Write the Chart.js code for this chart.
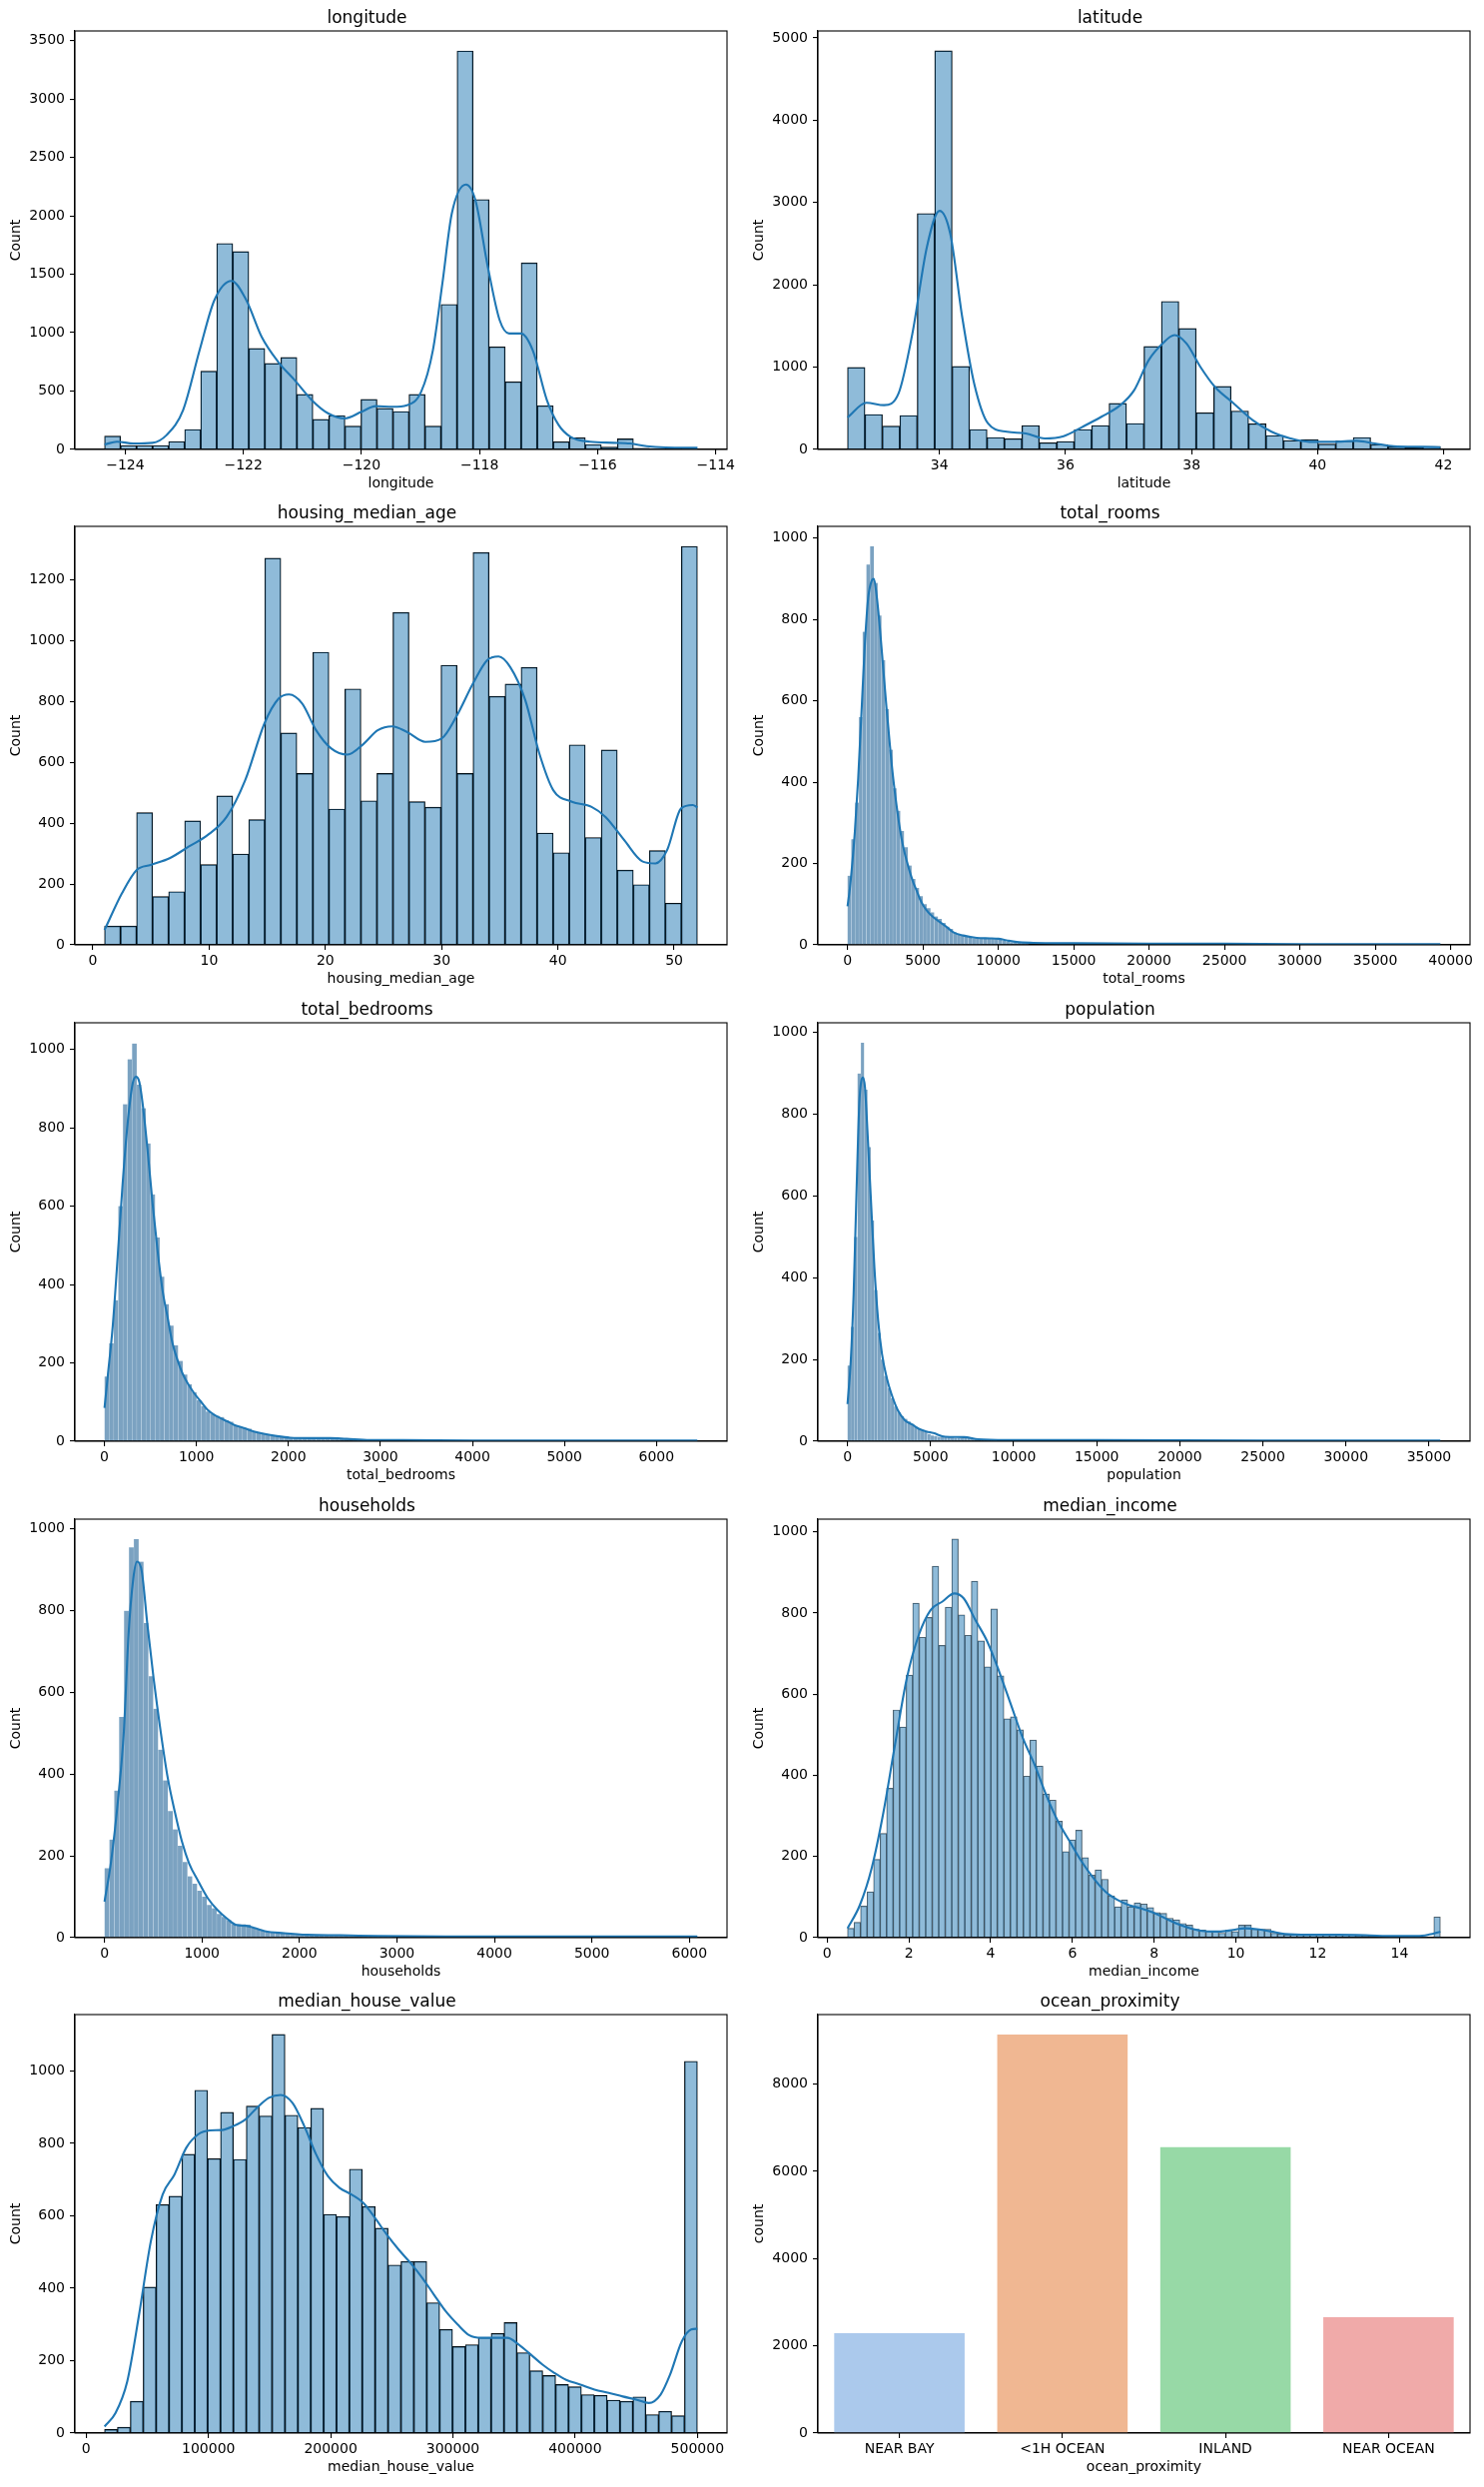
<!DOCTYPE html>
<html lang="en">
<head>
  <meta charset="UTF-8" />
  <title>Housing feature distributions</title>
  <script src="https://cdn.jsdelivr.net/npm/chart.js"></script>
  <style>
    html, body { margin: 0; padding: 0; background: #fff; }
    body { width: 1486px; height: 2490px; position: relative; overflow: hidden; }
    .panel { position: absolute; width: 733px; height: 499px; }
  </style>
</head>
<body>

  <!-- 5 x 2 grid of panels -->
  <div class="panel" style="left:7px;top:1px"><canvas id="longitude" width="733" height="499"></canvas></div>
  <div class="panel" style="left:751px;top:1px"><canvas id="latitude" width="733" height="499"></canvas></div>
  <div class="panel" style="left:7px;top:497px"><canvas id="housing_median_age" width="733" height="499"></canvas></div>
  <div class="panel" style="left:751px;top:497px"><canvas id="total_rooms" width="733" height="499"></canvas></div>
  <div class="panel" style="left:7px;top:994px"><canvas id="total_bedrooms" width="733" height="499"></canvas></div>
  <div class="panel" style="left:751px;top:994px"><canvas id="population" width="733" height="499"></canvas></div>
  <div class="panel" style="left:7px;top:1491px"><canvas id="households" width="733" height="499"></canvas></div>
  <div class="panel" style="left:751px;top:1491px"><canvas id="median_income" width="733" height="499"></canvas></div>
  <div class="panel" style="left:7px;top:1987px"><canvas id="median_house_value" width="733" height="499"></canvas></div>
  <div class="panel" style="left:751px;top:1987px"><canvas id="ocean_proximity" width="733" height="499"></canvas></div>

  <script>
    // ---- data ----
    // longitude: 37 bins from -124.35
    const lonStart = -124.35, lonWidth = 0.27135;
    const lonCounts = [114,34,34,34,68,171,670,1763,1694,864,736,787,471,257,291,200,428,351,325,471,200,1241,3411,2139,878,579,1597,374,66,100,43,20,91,11,8,6,5];
    const lonKdeX = [-124.35,-124.14,-123.86,-123.54,-123.30,-123.02,-122.74,-122.49,-122.20,-121.95,-121.69,-121.41,-121.13,-120.84,-120.56,-120.28,-120.00,-119.76,-119.47,-119.23,-118.99,-118.79,-118.63,-118.47,-118.23,-118.07,-117.86,-117.66,-117.50,-117.30,-117.10,-116.86,-116.66,-116.46,-116.13,-115.73,-115.45,-115.17,-114.85,-114.31];
    const lonKdeY = [43,66,51,57,123,337,850,1278,1443,1278,964,750,593,422,308,265,322,371,365,379,493,850,1420,2019,2268,2133,1563,1107,993,993,850,422,208,108,66,57,51,28,17,14];

    // latitude: 34 bins from 32.54
    const latStart = 32.54, latWidth = 0.27676;
    const latCounts = [996,425,283,413,2866,4842,1008,243,146,130,291,81,97,243,291,559,316,1251,1798,1470,445,765,466,312,170,109,121,65,105,146,61,32,24,36];
    const latKdeX = [32.54,32.84,33.12,33.35,33.57,33.8,34.0,34.17,34.36,34.55,34.77,35.07,35.37,35.67,35.97,36.27,36.57,36.87,37.09,37.32,37.54,37.73,37.92,38.14,38.37,38.67,38.97,39.27,39.57,39.87,40.24,40.62,40.91,41.21,41.66,41.95];
    const latKdeY = [389,567,538,680,1409,2461,2899,2623,1611,802,316,215,194,134,162,275,397,538,720,1085,1287,1389,1287,1004,761,559,356,215,134,93,93,105,73,40,32,28];

    // housing_median_age: 37 bins from 1
    const ageStart = 1, ageWidth = 1.3784;
    const ageCounts = [62,62,435,159,175,408,264,490,299,412,1272,697,564,963,447,842,474,564,1094,471,453,920,564,1291,818,858,913,368,303,658,353,641,246,198,310,137,1311];
    const ageKdeX = [1,2.5,3.75,4.97,6.6,8.23,9.86,11.5,13.1,14.75,15.97,16.87,18.0,19.2,20.5,21.9,23.3,24.5,25.75,27,28.6,30.0,31.25,32.7,33.9,34.9,35.9,37.2,38.4,39.6,41.2,42.9,44.1,45.7,47.3,48.4,49.4,50.6,51.6,52];
    const ageKdeY = [49,170,246,263,285,323,361,421,542,728,810,824,794,706,646,626,662,706,719,701,668,679,750,860,936,949,914,805,630,509,471,454,421,345,274,268,312,449,460,452];

    // total_rooms: bars of 250 from 2 (tail below 4 left to the kde line)
    const roomsStart = 2, roomsWidth = 250;
    const roomsCounts = [170,260,350,560,770,935,980,890,810,700,580,480,385,330,280,240,195,162,140,120,100,90,80,70,64,54,45,39,31,27,23,20,17,16,15,16,16,16,15,15,12,10,8,6,5,5,4,4];
    const roomsKdeX = [2,155,487,708,929,1150,1372,1593,1748,1925,2146,2367,2588,2810,3031,3252,3473,3695,3916,4137,4358,4580,4801,5022,5354,5686,6128,6571,7013,7677,8562,9447,10000,10553,11217,12323,13872,15000,20000,25000,30000,35000,39320];
    const roomsKdeY = [95,138,278,409,573,738,853,894,900,861,779,680,582,491,409,343,286,241,208,179,154,134,113,97,80,68,56,44,31,23,17,16,15,11,7,5,4,4,3,3,2,2,2];

    // total_bedrooms: bars of 50 from 1
    const bedStart = 1, bedWidth = 50;
    const bedCounts = [165,250,360,600,860,975,1015,910,850,760,630,520,420,350,295,245,205,170,145,125,105,90,76,70,65,62,53,50,41,37,34,32,24,21,18,16,14,12,11,11,9,9,8,8,7,7,6,6,7,9,8,7,6,5,5,4,4,4,3,3];
    const bedKdeX = [1,36,90,144,198,252,307,343,379,415,469,523,577,631,685,739,793,847,902,974,1046,1118,1190,1262,1334,1406,1515,1623,1731,1875,2019,2236,2452,2632,2885,3245,4000,5000,6000,6445];
    const bedKdeY = [85,166,293,471,658,811,913,930,917,862,743,607,488,386,318,251,208,174,149,123,102,81,68,59,51,42,34,25,19,13,9,8,8,6,3,3,2,2,2,2];

    // population: bars of 200 from 3
    const popStart = 3, popWidth = 200;
    const popCounts = [185,280,500,900,975,860,720,540,370,265,200,160,130,105,85,70,62,55,48,42,35,30,26,24,18,14,13,11,11,10,10,9,8,8,8,9,10,7,6,5,4,4,3,3,3];
    const popKdeX = [3,199,369,540,710,824,937,1051,1222,1392,1619,1847,2074,2358,2642,3040,3466,3892,4318,4744,5170,5881,7017,7869,9574,15000,25000,35682];
    const popKdeY = [91,197,360,605,825,880,890,866,743,605,425,295,214,156,116,75,51,41,30,24,20,11,10,5,3,3,2,2];

    // households: bars of 50 from 1
    const hhStart = 1, hhWidth = 50;
    const hhCounts = [170,240,360,540,800,955,975,920,770,640,560,460,385,310,265,225,185,150,132,115,100,80,72,58,51,43,33,33,33,32,24,20,17,15,13,13,13,11,8,8,7,7,7,7,6,7,7,6,5,5,4,4,4,3,3,3,3,3,3,2];
    const hhKdeX = [1,68,141,199,247,296,335,383,441,504,577,650,722,795,868,965,1062,1159,1256,1353,1450,1547,1644,1838,2080,2419,2807,3500,4500,6082];
    const hhKdeY = [88,186,341,504,741,879,920,896,765,635,504,390,308,235,182,137,96,68,47,31,29,23,16,11,7,6,4,3,3,3];

    // median_income: 91 bins from 0.4999
    const incStart = 0.4999, incWidth = 0.15934;
    const incCounts = [23,38,78,113,193,257,368,561,519,647,824,740,789,915,720,814,982,795,745,878,731,667,810,645,539,544,512,398,487,423,354,339,287,212,241,265,197,154,167,144,103,76,93,76,86,83,74,62,60,48,44,35,31,21,19,16,16,11,19,15,31,31,21,21,21,11,9,7,7,7,7,7,7,9,7,7,7,7,6,5,4,4,3,3,3,3,2,2,2,0,51];
    const incKdeX = [0.5,0.8,1.09,1.38,1.66,1.95,2.24,2.53,2.82,3.11,3.34,3.63,3.92,4.21,4.5,4.79,5.08,5.36,5.65,5.94,6.23,6.52,6.81,7.1,7.39,7.68,7.97,8.25,8.54,8.89,9.24,9.58,9.93,10.22,10.51,10.86,11.2,11.78,12.47,13.17,13.86,14.44,14.73,15.0];
    const incKdeY = [23,80,171,310,475,639,745,807,828,848,836,782,729,655,573,491,425,351,286,236,187,146,113,93,80,72,62,49,35,23,16,15,19,23,21,15,9,7,7,6,4,4,8,15];

    // median_house_value: 46 bins from 14999
    const hvStart = 14999, hvWidth = 10543.5;
    const hvCounts = [10,16,88,403,631,654,770,947,758,886,756,903,876,1101,878,844,897,604,598,729,626,566,464,474,474,360,286,239,244,264,275,305,222,172,159,134,128,106,104,91,88,100,51,60,48,1027];
    const hvKdeX = [14999,23940,33590,43240,52900,62550,72200,81850,91500,101160,110810,120460,130120,139770,149420,159070,168730,178380,188030,197680,207340,216990,226640,236290,245950,255600,265250,274900,284560,294210,303860,313510,323170,334750,344400,354050,363710,373360,383010,392660,404250,415830,427410,439000,450580,460230,469880,477610,487260,494980,500001];
    const hvKdeY = [18,55,143,327,530,659,714,788,825,836,837,848,866,899,926,934,912,848,770,710,677,659,636,594,548,507,470,429,382,336,300,270,263,263,263,244,217,189,166,147,134,120,111,101,92,83,106,161,253,286,288];

    // ocean_proximity counts
    const oceanCats = ['NEAR BAY', '<1H OCEAN', 'INLAND', 'NEAR OCEAN'];
    const oceanCounts = [2290, 9136, 6551, 2658];
    const oceanColors = ['#abc9ec', '#f0b792', '#97d9a6', '#f0aaa9'];

    // ---- drawing ----
    Chart.defaults.font.family = "'DejaVu Sans', sans-serif";
    Chart.defaults.font.size = 14;
    Chart.defaults.color = '#000';

    const frame = {
      id: 'frame',
      afterDatasetsDraw(chart) {
        const { ctx, chartArea: a } = chart;
        ctx.save();
        ctx.strokeStyle = '#000';
        ctx.lineWidth = 1.1;
        ctx.strokeRect(a.left, a.top, a.right - a.left, a.bottom - a.top);
        ctx.restore();
      }
    };

    const fmt = v => v < 0 ? '\u2212' + Math.abs(v) : String(v);
    const axisGrid = { display: true, drawOnChartArea: false, drawTicks: true, tickLength: 5, color: '#000', lineWidth: 1.1, offset: false };
    const axisBorder = { display: true, color: '#000', width: 1.1 };

    function yScale(label, yMax, yTicks) {
      return {
        min: 0, max: yMax, bounds: 'data',
        afterBuildTicks: s => { s.ticks = yTicks.map(v => ({ value: v })); },
        afterFit: s => { s.width = 68; },
        grid: axisGrid, border: axisBorder,
        ticks: { padding: 5, callback: fmt },
        title: { display: true, text: label, padding: { top: 1, bottom: 0 } }
      };
    }

    function baseOptions(title) {
      return {
        responsive: false, animation: false, events: [],
        layout: { padding: { left: 0, right: 12, top: 0, bottom: 0 } },
        plugins: {
          legend: { display: false }, tooltip: { enabled: false },
          title: { display: true, text: title, font: { size: 17, weight: 'normal' }, padding: { top: 7.6, bottom: 2 } }
        }
      };
    }

    const styles = {
      edged: { backgroundColor: 'rgba(31,119,180,0.5)', borderColor: '#000', borderWidth: 0.7 },
      thin: { backgroundColor: 'rgba(31,119,180,0.5)', borderColor: 'rgba(40,40,40,0.75)', borderWidth: 0.5 },
      dense: { backgroundColor: 'rgb(123,162,193)', borderColor: 'rgba(190,214,233,0.8)', borderWidth: { left: 0.5, right: 0, top: 0, bottom: 0 } }
    };

    function histChart(p) {
      const bars = p.counts.map((c, i) => ({ x: p.start + (i + 0.5) * p.width, y: c }));
      const kde = p.kdeX.map((x, i) => ({ x: x, y: p.kdeY[i] }));
      const opts = baseOptions(p.name);
      opts.scales = {
        x: {
          type: 'linear', min: p.xMin, max: p.xMax, bounds: 'data', offset: false,
          afterBuildTicks: s => { s.ticks = p.xTicks.map(v => ({ value: v })); },
          afterFit: s => { s.height = 50; },
          grid: axisGrid, border: axisBorder,
          ticks: { padding: 3, maxRotation: 0, autoSkip: false, callback: fmt },
          title: { display: true, text: p.name, padding: { top: 0, bottom: 7 } }
        },
        y: yScale('Count', p.yMax, p.yTicks)
      };
      new Chart(document.getElementById(p.name), {
        type: 'bar',
        data: {
          datasets: [
            { type: 'line', data: kde, borderColor: '#1f77b4', borderWidth: 2.1, pointRadius: 0,
              cubicInterpolationMode: 'monotone', fill: false, order: 0 },
            Object.assign({ data: bars, barPercentage: 1, categoryPercentage: 1, order: 1 }, styles[p.style])
          ]
        },
        options: opts,
        plugins: [frame]
      });
    }

    histChart({ name: 'longitude', start: lonStart, width: lonWidth, counts: lonCounts, kdeX: lonKdeX, kdeY: lonKdeY,
      xMin: -124.852, xMax: -113.81, xTicks: [-124, -122, -120, -118, -116, -114],
      yMax: 3582, yTicks: [0, 500, 1000, 1500, 2000, 2500, 3000, 3500], style: 'edged' });

    histChart({ name: 'latitude', start: latStart, width: latWidth, counts: latCounts, kdeX: latKdeX, kdeY: latKdeY,
      xMin: 32.07, xMax: 42.42, xTicks: [34, 36, 38, 40, 42],
      yMax: 5084, yTicks: [0, 1000, 2000, 3000, 4000, 5000], style: 'edged' });

    histChart({ name: 'housing_median_age', start: ageStart, width: ageWidth, counts: ageCounts, kdeX: ageKdeX, kdeY: ageKdeY,
      xMin: -1.55, xMax: 54.55, xTicks: [0, 10, 20, 30, 40, 50],
      yMax: 1377, yTicks: [0, 200, 400, 600, 800, 1000, 1200], style: 'edged' });

    histChart({ name: 'total_rooms', start: roomsStart, width: roomsWidth, counts: roomsCounts, kdeX: roomsKdeX, kdeY: roomsKdeY,
      xMin: -1964, xMax: 41286, xTicks: [0, 5000, 10000, 15000, 20000, 25000, 30000, 35000, 40000],
      yMax: 1029, yTicks: [0, 200, 400, 600, 800, 1000], style: 'dense' });

    histChart({ name: 'total_bedrooms', start: bedStart, width: bedWidth, counts: bedCounts, kdeX: bedKdeX, kdeY: bedKdeY,
      xMin: -321, xMax: 6767, xTicks: [0, 1000, 2000, 3000, 4000, 5000, 6000],
      yMax: 1068, yTicks: [0, 200, 400, 600, 800, 1000], style: 'dense' });

    histChart({ name: 'population', start: popStart, width: popWidth, counts: popCounts, kdeX: popKdeX, kdeY: popKdeY,
      xMin: -1781, xMax: 37466, xTicks: [0, 5000, 10000, 15000, 20000, 25000, 30000, 35000],
      yMax: 1024, yTicks: [0, 200, 400, 600, 800, 1000], style: 'dense' });

    histChart({ name: 'households', start: hhStart, width: hhWidth, counts: hhCounts, kdeX: hhKdeX, kdeY: hhKdeY,
      xMin: -303, xMax: 6386, xTicks: [0, 1000, 2000, 3000, 4000, 5000, 6000],
      yMax: 1024, yTicks: [0, 200, 400, 600, 800, 1000], style: 'dense' });

    histChart({ name: 'median_income', start: incStart, width: incWidth, counts: incCounts, kdeX: incKdeX, kdeY: incKdeY,
      xMin: -0.225, xMax: 15.725, xTicks: [0, 2, 4, 6, 8, 10, 12, 14],
      yMax: 1031, yTicks: [0, 200, 400, 600, 800, 1000], style: 'thin' });

    histChart({ name: 'median_house_value', start: hvStart, width: hvWidth, counts: hvCounts, kdeX: hvKdeX, kdeY: hvKdeY,
      xMin: -9251, xMax: 524251, xTicks: [0, 100000, 200000, 300000, 400000, 500000],
      yMax: 1156, yTicks: [0, 200, 400, 600, 800, 1000], style: 'edged' });

    // count plot
    const oceanOpts = baseOptions('ocean_proximity');
    oceanOpts.scales = {
      x: {
        type: 'category', offset: true,
        afterFit: s => { s.height = 50; },
        grid: axisGrid, border: axisBorder,
        ticks: { padding: 3, maxRotation: 0, autoSkip: false },
        title: { display: true, text: 'ocean_proximity', padding: { top: 0, bottom: 7 } }
      },
      y: yScale('count', 9593, [0, 2000, 4000, 6000, 8000])
    };
    new Chart(document.getElementById('ocean_proximity'), {
      type: 'bar',
      data: {
        labels: oceanCats,
        datasets: [{ data: oceanCounts, backgroundColor: oceanColors, borderWidth: 0, barPercentage: 0.8, categoryPercentage: 1 }]
      },
      options: oceanOpts,
      plugins: [frame]
    });
  </script>
</body>
</html>
